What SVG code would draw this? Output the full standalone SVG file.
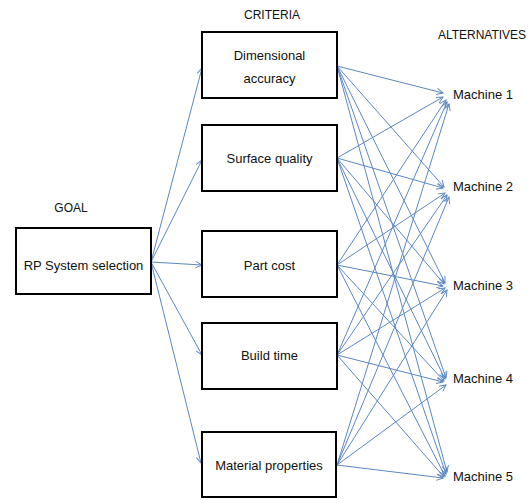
<svg xmlns="http://www.w3.org/2000/svg" width="532" height="500" viewBox="0 0 532 500">
<style>
.box{fill:#fff;stroke:#000;stroke-width:2}
.t{font-family:"Liberation Sans",Arial,sans-serif;font-size:13px;fill:#111;text-anchor:middle;dominant-baseline:central}
.h{font-family:"Liberation Sans",Arial,sans-serif;font-size:12px;fill:#111;text-anchor:middle;dominant-baseline:central}
.c{stroke:#5b87c2;stroke-width:1;fill:none;marker-end:url(#a)}
</style>
<defs>
<marker id="a" viewBox="0 0 10 10" refX="9" refY="5" markerWidth="8" markerHeight="8" markerUnits="userSpaceOnUse" orient="auto">
<path d="M1,1 L9,5 L1,9" fill="none" stroke="#5b87c2" stroke-width="1.2"/>
</marker>
</defs>
<text class="h" x="272" y="15">CRITERIA</text>
<text class="h" x="71" y="208">GOAL</text>
<text class="h" x="482" y="35">ALTERNATIVES</text>
<g id="connectors">
<line class="c" x1="151" y1="262" x2="202" y2="68"/>
<line class="c" x1="151" y1="262" x2="202" y2="160"/>
<line class="c" x1="151" y1="262" x2="202" y2="265"/>
<line class="c" x1="151" y1="262" x2="202" y2="355"/>
<line class="c" x1="151" y1="262" x2="201" y2="463"/>
<line class="c" x1="337" y1="66" x2="443" y2="93"/>
<line class="c" x1="337" y1="66" x2="444" y2="187"/>
<line class="c" x1="337" y1="66" x2="445" y2="283"/>
<line class="c" x1="337" y1="66" x2="446" y2="378"/>
<line class="c" x1="337" y1="66" x2="447" y2="472"/>
<line class="c" x1="337" y1="158" x2="443" y2="97"/>
<line class="c" x1="337" y1="158" x2="443" y2="188"/>
<line class="c" x1="337" y1="158" x2="444" y2="284"/>
<line class="c" x1="337" y1="158" x2="445" y2="379"/>
<line class="c" x1="337" y1="158" x2="446" y2="474"/>
<line class="c" x1="337" y1="265" x2="446" y2="100"/>
<line class="c" x1="337" y1="265" x2="445" y2="193"/>
<line class="c" x1="337" y1="265" x2="443" y2="286"/>
<line class="c" x1="337" y1="265" x2="444" y2="381"/>
<line class="c" x1="337" y1="265" x2="445" y2="476"/>
<line class="c" x1="337" y1="355" x2="447" y2="102"/>
<line class="c" x1="337" y1="355" x2="447" y2="195"/>
<line class="c" x1="337" y1="355" x2="445" y2="288"/>
<line class="c" x1="337" y1="355" x2="443" y2="382"/>
<line class="c" x1="337" y1="355" x2="444" y2="477"/>
<line class="c" x1="337" y1="465" x2="449" y2="104"/>
<line class="c" x1="337" y1="465" x2="449" y2="197"/>
<line class="c" x1="337" y1="465" x2="447" y2="290"/>
<line class="c" x1="337" y1="465" x2="446" y2="385"/>
<line class="c" x1="337" y1="465" x2="443" y2="478"/>
</g>
<g id="goal"><rect class="box" x="16" y="228" width="135" height="66"/><text class="t" x="83.5" y="265">RP System selection</text></g>
<g id="c1"><rect class="box" x="202" y="32" width="135" height="66"/><text class="t" x="269.5" y="55">Dimensional</text><text class="t" x="269.5" y="78">accuracy</text></g>
<g id="c2"><rect class="box" x="202" y="125" width="135" height="66"/><text class="t" x="269.5" y="158">Surface quality</text></g>
<g id="c3"><rect class="box" x="202" y="231" width="135" height="66"/><text class="t" x="269.5" y="265">Part cost</text></g>
<g id="c4"><rect class="box" x="202" y="323" width="135" height="66"/><text class="t" x="269.5" y="355">Build time</text></g>
<g id="c5"><rect class="box" x="202" y="432" width="134" height="65"/><text class="t" x="269" y="465">Material properties</text></g>
<g id="m1"><text class="t" x="483" y="94">Machine 1</text></g>
<g id="m2"><text class="t" x="483" y="186">Machine 2</text></g>
<g id="m3"><text class="t" x="483" y="285">Machine 3</text></g>
<g id="m4"><text class="t" x="483" y="378">Machine 4</text></g>
<g id="m5"><text class="t" x="483" y="476">Machine 5</text></g>
</svg>
